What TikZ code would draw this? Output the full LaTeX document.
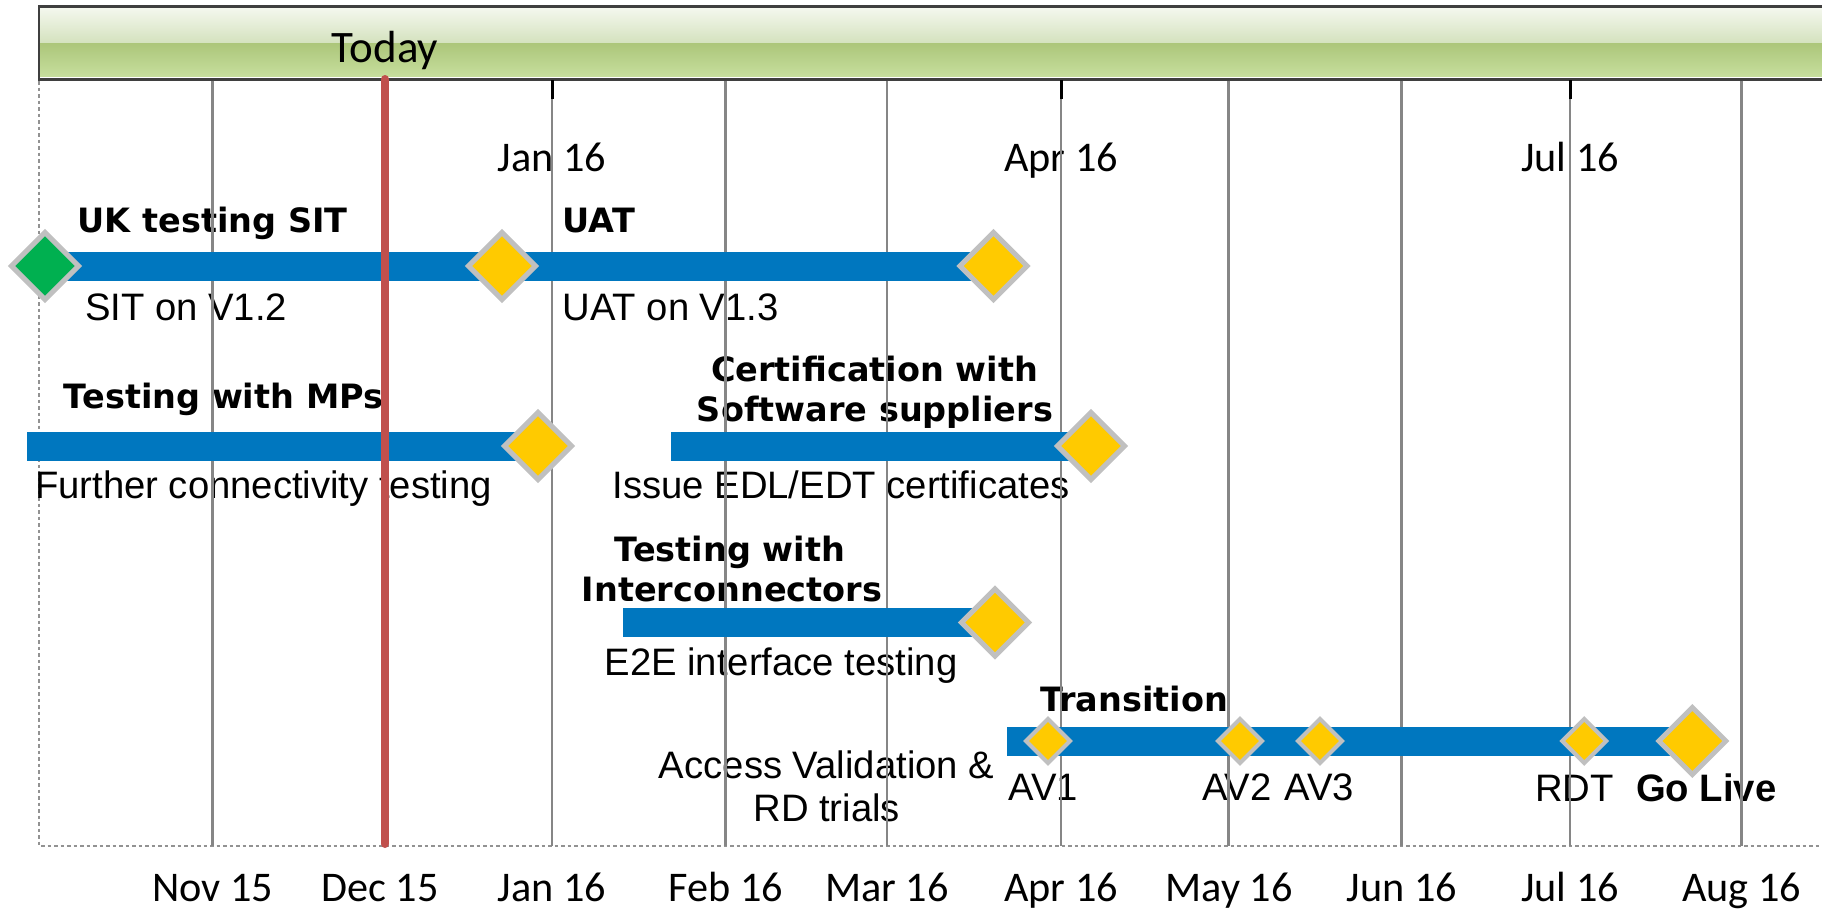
\documentclass[tikz,border=0pt]{standalone}
\usepackage{fontspec}
\setmainfont{Liberation Sans}
\newfontfamily\calfont{Carlito}
\newfontfamily\hdfont{DejaVu Sans}
\usetikzlibrary{shapes.geometric}
\definecolor{barblue}{HTML}{0077BF}
\definecolor{gold}{HTML}{FFCA00}
\definecolor{msgreen}{HTML}{00B050}
\definecolor{dgray}{HTML}{C0C0C0}
\definecolor{todayred}{HTML}{C0504D}
\definecolor{gridgray}{HTML}{868686}
\definecolor{framegray}{HTML}{3F3F3F}
\definecolor{hdtopA}{HTML}{F5F8EF}
\definecolor{hdtopB}{HTML}{D4E2BE}
\definecolor{hdbotA}{HTML}{ACC67A}
\definecolor{hdbotB}{HTML}{C7DF9E}
\begin{document}
\begin{tikzpicture}[x=0.4pt,y=-0.4pt,
  reg/.style={font=\fontsize{15.3}{18}\selectfont, inner sep=0, outer sep=0},
  hd/.style={font=\hdfont\bfseries\fontsize{13.4}{16}\selectfont, inner sep=0, outer sep=0},
  mon/.style={font=\calfont\fontsize{16.9}{19}\selectfont, inner sep=0, anchor=base},
  gridln/.style={draw=gridgray, line width=1pt},
  tickln/.style={draw=black, line width=1.2pt},
  dotln/.style={draw=gridgray!90, line width=0.8pt, dash pattern=on 1.4pt off 1.2pt},
  ms/.style={diamond, draw=dgray, fill=gold, line width=2pt, minimum size=26.8pt, inner sep=0, outer sep=0},
  mss/.style={ms, line width=1.6pt, minimum size=17.6pt}]
\useasboundingbox (0,0) rectangle (1822,909);

% header bar
\shade[top color=hdtopA, bottom color=hdtopB] (39,6.7) rectangle (1840,43);
\shade[top color=hdbotA, bottom color=hdbotB] (39,43) rectangle (1840,77);
\fill[white] (39,77) rectangle (1840,78);
\draw[framegray, line width=1pt] (1840,6.7) -- (39,6.7) -- (39,79.3) -- (1840,79.3);
\node[font=\calfont\fontsize{18}{21}\selectfont, inner sep=0, anchor=base] (today) at (385,62.7) {Today};

% frame
\draw[dotln] (39,81) -- (39,846) -- (1822,846);

% top month labels
\node[mon] (tJan) at (552,171.7) {Jan 16};
\node[mon] (tApr) at (1061,171.7) {Apr 16};
\node[mon] (tJul) at (1570,171.7) {Jul 16};

% bottom month labels
\foreach \x/\t/\n in {212.7/Nov 15/bNov, 380/Dec 15/bDec, 552/Jan 16/bJan, 726/Feb 16/bFeb, 887/Mar 16/bMar, 1061/Apr 16/bApr, 1229/May 16/bMay, 1402/Jun 16/bJun, 1570/Jul 16/bJul, 1741.7/Aug 16/bAug}
  \node[mon] (\n) at (\x,901) {\t};

% task labels
\node[hd, anchor=base west] (ukhd) at (77.7,232.3) {UK testing SIT};
\node[hd, anchor=base west] (uathd) at (562.5,232.3) {UAT};
\node[reg, anchor=base west] (sitsub) at (85,320) {SIT on V1.2};
\node[reg, anchor=base west] (uatsub) at (562.5,320) {UAT on V1.3};

\node[hd, anchor=base west] (mphd) at (64,408) {Testing with MPs};
\node[reg, anchor=base west] (mpsub) at (35,498) {Further connectivity testing};

\node[hd, anchor=base] (certhdA) at (874.5,381.7) {Certification with};
\node[hd, anchor=base] (certhdB) at (875,421.7) {Software suppliers};
\node[reg, anchor=base] (certsub) at (841,498) {Issue EDL/EDT certificates};

\node[hd, anchor=base] (ichdA) at (730,561.7) {Testing with};
\node[hd, anchor=base] (ichdB) at (732,601.7) {Interconnectors};
\node[reg, anchor=base] (icsub) at (781,675) {E2E interface testing};

\node[hd, anchor=base west] (trhd) at (1040,711.7) {Transition};
\node[reg, anchor=base] (trsubA) at (826.6,778) {Access Validation \&};
\node[reg, anchor=base] (trsubB) at (826.8,821.7) {RD trials};
\node[reg, anchor=base west] (lav1) at (1008.7,800) {AV1};
\node[reg, anchor=base west] (lav2) at (1202,800) {AV2};
\node[reg, anchor=base west] (lav3) at (1284.5,800) {AV3};
\node[reg, anchor=base west] (lrdt) at (1535,801.7) {RDT};
\node[reg, anchor=base west, font=\bfseries\fontsize{15.3}{18}\selectfont] (lgo) at (1636,801.7) {Go Live};

% gridlines
\foreach \x in {212.7,385,552,725.5,887,1061.2,1228.6,1401.7,1570,1741.7}
  \draw[gridln] (\x,80.5) -- (\x,846);
\foreach \x in {552,1061.2,1570}
  \draw[tickln] (\x,80) -- (\x,99);

% bars
\fill[barblue] (45,251.7) rectangle (502,280.7);
\fill[barblue] (502,251.7) rectangle (993.5,280.7);
\fill[barblue] (27,432.3) rectangle (538,460.7);
\fill[barblue] (671,432.3) rectangle (1091,460.7);
\fill[barblue] (623,608.3) rectangle (995,636.7);
\fill[barblue] (1007,726.7) rectangle (1692,755.7);

% milestones
\node[ms, fill=msgreen] (m0) at (45,266) {};
\node[ms] (m1) at (502,266) {};
\node[ms] (m2) at (993.5,266) {};
\node[ms] (m3) at (538,446) {};
\node[ms] (m4) at (1091,446) {};
\node[ms] (m5) at (995,622.5) {};
\node[mss] (av1) at (1048,741) {};
\node[mss] (av2) at (1240,741) {};
\node[mss] (av3) at (1320,741) {};
\node[mss] (rdt) at (1584.3,741) {};
\node[ms] (golive) at (1692.3,741) {};

% today line
\draw[todayred, line width=3.2pt, line cap=round] (385,79) -- (385,844);
\end{tikzpicture}
\end{document}
